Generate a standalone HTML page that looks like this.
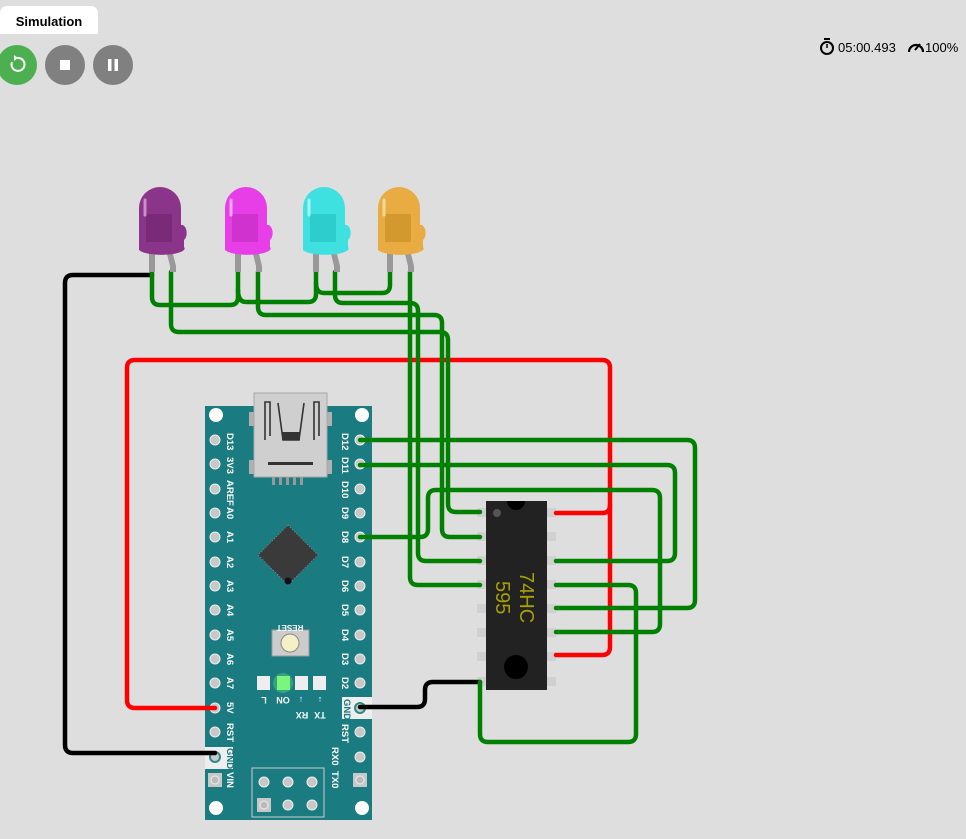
<!DOCTYPE html>
<html><head><meta charset="utf-8"><style>
html,body{margin:0;padding:0;background:#dedede;width:966px;height:839px;overflow:hidden;font-family:"Liberation Sans",sans-serif}
svg{position:absolute;left:0;top:0}
</style></head><body>
<svg width="966" height="839" viewBox="0 0 966 839" xmlns="http://www.w3.org/2000/svg">
<rect width="966" height="839" fill="#dedede"/>
<!-- top UI -->
<path d="M0,34 L0,14 Q0,6 8,6 L90,6 Q98,6 98,14 L98,34 Z" fill="#fff"/>
<text x="49" y="26" font-size="13" font-weight="bold" text-anchor="middle" fill="#000">Simulation</text>
<circle cx="17" cy="65" r="20" fill="#4caf50"/>
<path d="M12,62 A6.5,6.5 0 1 0 17,58" fill="none" stroke="#fff" stroke-width="2"/>
<path d="M14,55 L18,58 L14,61 Z" fill="#fff"/>
<circle cx="65" cy="65" r="20" fill="#808080"/>
<rect x="60" y="60" width="10" height="10" fill="#fff"/>
<circle cx="113" cy="65" r="20" fill="#808080"/>
<rect x="108" y="59" width="3.5" height="12" fill="#fff"/><rect x="114.5" y="59" width="3.5" height="12" fill="#fff"/>
<circle cx="827" cy="48" r="6" fill="none" stroke="#000" stroke-width="2"/><rect x="824" y="38" width="6" height="2" fill="#000"/><line x1="827" y1="48" x2="827" y2="44" stroke="#000" stroke-width="1.5"/>
<text x="838" y="52" font-size="13" fill="#000">05:00.493</text>
<path d="M909,52 A7,7 0 1 1 923,52" fill="none" stroke="#000" stroke-width="2.2"/><line x1="915" y1="50" x2="920" y2="44" stroke="#000" stroke-width="2"/>
<text x="925" y="52" font-size="13" fill="#000">100%</text>

<!-- Arduino board -->
<rect x="205" y="406" width="167" height="414" fill="#1a7b80"/>
<g fill="#fff"><circle cx="216" cy="415" r="7"/><circle cx="362" cy="415" r="7"/><circle cx="216" cy="808" r="7"/><circle cx="362" cy="808" r="7"/></g>
<rect x="249" y="412" width="8" height="14" fill="#b0b0b0"/><rect x="324" y="412" width="8" height="14" fill="#b0b0b0"/>
<rect x="249" y="460" width="8" height="14" fill="#b0b0b0"/><rect x="324" y="460" width="8" height="14" fill="#b0b0b0"/>
<rect x="254" y="393" width="73" height="84" fill="#cfcfcf" stroke="#a8a8a8"/>
<path d="M265,440 L265,402 L270,402 L270,436 M278,403 L283,440 L299,440 L304,403 M314,440 L314,402 L319,402 L319,436" fill="none" stroke="#333" stroke-width="1.6"/>
<rect x="282" y="432" width="18" height="8" fill="#333"/>
<rect x="268" y="462" width="45" height="3" fill="#333"/>
<g fill="#999"><rect x="272" y="477" width="3" height="8"/><rect x="279" y="477" width="3" height="8"/><rect x="286" y="477" width="3" height="8"/><rect x="293" y="477" width="3" height="8"/><rect x="300" y="477" width="3" height="8"/></g>
<polygon points="288,525 318,555 288,585 258,555" fill="#3a3a3a" stroke="#888" stroke-width="1" stroke-dasharray="1,2"/>
<circle cx="288" cy="581" r="3.5" fill="#111"/>
<!-- pins -->
<g fill="#c8c8c8" stroke="#eee" stroke-width="1">
<circle cx="215" cy="440" r="5"/><circle cx="215" cy="464" r="5"/><circle cx="215" cy="489" r="5"/><circle cx="215" cy="513" r="5"/><circle cx="215" cy="537" r="5"/><circle cx="215" cy="562" r="5"/><circle cx="215" cy="586" r="5"/><circle cx="215" cy="610" r="5"/><circle cx="215" cy="635" r="5"/><circle cx="215" cy="659" r="5"/><circle cx="215" cy="683" r="5"/><circle cx="215" cy="708" r="5"/><circle cx="215" cy="732" r="5"/>
<circle cx="360" cy="440" r="5"/><circle cx="360" cy="464" r="5"/><circle cx="360" cy="489" r="5"/><circle cx="360" cy="513" r="5"/><circle cx="360" cy="537" r="5"/><circle cx="360" cy="562" r="5"/><circle cx="360" cy="586" r="5"/><circle cx="360" cy="610" r="5"/><circle cx="360" cy="635" r="5"/><circle cx="360" cy="659" r="5"/><circle cx="360" cy="683" r="5"/><circle cx="360" cy="732" r="5"/><circle cx="360" cy="757" r="5"/>
</g>
<rect x="205" y="747" width="28" height="22" fill="#eee"/><circle cx="215" cy="757" r="5" fill="#c8c8c8" stroke="#2a8a8a" stroke-width="2"/>
<rect x="342" y="697" width="30" height="22" fill="#eee"/><circle cx="360" cy="708" r="5" fill="#c8c8c8" stroke="#2a8a8a" stroke-width="2"/>
<rect x="208" y="773" width="14" height="14" fill="#c8c8c8"/><circle cx="215" cy="780" r="4" fill="#bbb" stroke="#eee"/>
<rect x="353" y="773" width="14" height="14" fill="#c8c8c8"/><circle cx="360" cy="780" r="4" fill="#bbb" stroke="#eee"/>
<rect x="252" y="768" width="72" height="49" fill="none" stroke="#ccc"/>
<g fill="#c8c8c8" stroke="#eee"><circle cx="264" cy="782" r="5"/><circle cx="288" cy="782" r="5"/><circle cx="312" cy="782" r="5"/><circle cx="288" cy="805" r="5"/><circle cx="312" cy="805" r="5"/></g>
<rect x="257" y="798" width="14" height="14" fill="#c8c8c8"/><circle cx="264" cy="805" r="4" fill="#bbb" stroke="#eee"/>
<!-- reset -->
<rect x="272" y="630" width="37" height="26" fill="#ccc" stroke="#999"/>
<circle cx="290" cy="643" r="9" fill="#f5f0c8" stroke="#888"/>
<text transform="translate(290,625) rotate(180)" font-size="8" fill="#fff" text-anchor="middle" font-weight="bold">RESET</text>
<!-- small leds -->
<rect x="257" y="676" width="13" height="14" fill="#eee"/>
<rect x="277" y="676" width="13" height="14" fill="#7cf57c"/><circle cx="283" cy="683" r="10" fill="#7cf57c" opacity="0.3"/>
<rect x="295" y="676" width="13" height="14" fill="#eee"/>
<rect x="313" y="676" width="13" height="14" fill="#eee"/>
<g fill="#fff" font-size="9" font-weight="bold">
<text transform="translate(264,697) rotate(180)" text-anchor="middle">L</text>
<text transform="translate(283,697) rotate(180)" text-anchor="middle">ON</text>
<text transform="translate(301,697) rotate(180)" text-anchor="middle">↓</text>
<text transform="translate(320,697) rotate(180)" text-anchor="middle">↓</text>
<text transform="translate(302,712) rotate(180)" text-anchor="middle">RX</text>
<text transform="translate(320,712) rotate(180)" text-anchor="middle">TX</text>
</g>
<!-- pin labels -->
<g fill="#fff" font-size="9.5" font-weight="bold">
<text transform="translate(227,433) rotate(90)">D13</text>
<text transform="translate(227,457) rotate(90)">3V3</text>
<text transform="translate(227,480) rotate(90)">AREF</text>
<text transform="translate(227,507) rotate(90)">A0</text>
<text transform="translate(227,531) rotate(90)">A1</text>
<text transform="translate(227,556) rotate(90)">A2</text>
<text transform="translate(227,580) rotate(90)">A3</text>
<text transform="translate(227,604) rotate(90)">A4</text>
<text transform="translate(227,629) rotate(90)">A5</text>
<text transform="translate(227,653) rotate(90)">A6</text>
<text transform="translate(227,677) rotate(90)">A7</text>
<text transform="translate(227,702) rotate(90)">5V</text>
<text transform="translate(227,723) rotate(90)">RST</text>
<text transform="translate(227,748) rotate(90)" fill="#1a7b80">GND</text>
<text transform="translate(227,772) rotate(90)">VIN</text>
<text transform="translate(342,433) rotate(90)">D12</text>
<text transform="translate(342,457) rotate(90)">D11</text>
<text transform="translate(342,481) rotate(90)">D10</text>
<text transform="translate(342,507) rotate(90)">D9</text>
<text transform="translate(342,531) rotate(90)">D8</text>
<text transform="translate(342,556) rotate(90)">D7</text>
<text transform="translate(342,580) rotate(90)">D6</text>
<text transform="translate(342,604) rotate(90)">D5</text>
<text transform="translate(342,629) rotate(90)">D4</text>
<text transform="translate(342,653) rotate(90)">D3</text>
<text transform="translate(342,677) rotate(90)">D2</text>
<text transform="translate(344,699) rotate(90)" fill="#1a7b80">GND</text>
<text transform="translate(342,724) rotate(90)">RST</text>
<text transform="translate(332,747) rotate(90)">RX0</text>
<text transform="translate(332,771) rotate(90)">TX0</text>
</g>

<!-- 74HC595 -->
<g fill="#d0d0d0">
<rect x="477" y="508" width="9" height="9"/><rect x="477" y="532" width="9" height="9"/><rect x="477" y="556" width="9" height="9"/><rect x="477" y="580" width="9" height="9"/><rect x="477" y="604" width="9" height="9"/><rect x="477" y="628" width="9" height="9"/><rect x="477" y="652" width="9" height="9"/><rect x="477" y="677" width="9" height="9"/>
<rect x="547" y="508" width="9" height="9"/><rect x="547" y="532" width="9" height="9"/><rect x="547" y="556" width="9" height="9"/><rect x="547" y="580" width="9" height="9"/><rect x="547" y="604" width="9" height="9"/><rect x="547" y="628" width="9" height="9"/><rect x="547" y="652" width="9" height="9"/><rect x="547" y="677" width="9" height="9"/>
</g>
<rect x="486" y="501" width="61" height="189" fill="#222"/>
<path d="M507,501 A9,9 0 0 0 525,501 Z" fill="#000"/>
<circle cx="497" cy="513" r="4" fill="#555"/>
<circle cx="516" cy="667" r="12" fill="#000"/>
<text transform="translate(520,572) rotate(90)" font-size="20" fill="#a8a000">74HC</text>
<text transform="translate(496,581) rotate(90)" font-size="20" fill="#a8a000">595</text>

<!-- wires -->
<g fill="none" stroke-width="4.5" stroke-linejoin="round" stroke-linecap="round">
<path d="M215,708 L135,708 Q127,708 127,700 L127,368 Q127,360 135,360 L602,360 Q610,360 610,368 L610,647 Q610,655 602,655 L556,655" stroke="#f00"/>
<path d="M556,513 L602,513 Q610,513 610,505" stroke="#f00"/>
<path d="M152,275 L73,275 Q65,275 65,283 L65,745 Q65,753 73,753 L215,753" stroke="#000"/>
<path d="M480,682 L433,682 Q425,682 425,690 L425,699 Q425,707 417,707 L360,707" stroke="#000"/>
<g stroke="#008000">
<path d="M152,272 L152,297 Q152,305 160,305 L230,305 Q238,305 238,297 L238,272"/>
<path d="M238,290 Q238,302 246,302 L308,302 Q316,302 316,294 L316,272"/>
<path d="M316,283 Q316,293 324,293 L382,293 Q390,293 390,285 L390,272"/>
<path d="M171,272 L171,324 Q171,332 179,332 L440,332 Q448,332 448,340 L448,504 Q448,512 456,512 L480,512"/>
<path d="M258,272 L258,307 Q258,315 266,315 L434,315 Q442,315 442,323 L442,529 Q442,537 450,537 L480,537"/>
<path d="M335,272 L335,295 Q335,303 343,303 L410,303 Q418,303 418,311 L418,553 Q418,561 426,561 L480,561"/>
<path d="M410,272 L410,577 Q410,585 418,585 L480,585"/>
<path d="M360,440 L687,440 Q695,440 695,448 L695,600 Q695,608 687,608 L556,608"/>
<path d="M360,465 L667,465 Q675,465 675,473 L675,553 Q675,561 667,561 L556,561"/>
<path d="M360,537 L420,537 Q428,537 428,529 L428,498 Q428,490 436,490 L652,490 Q660,490 660,498 L660,624 Q660,632 652,632 L556,632"/>
<path d="M556,585 L628,585 Q636,585 636,593 L636,734 Q636,742 628,742 L488,742 Q480,742 480,734 L480,682"/>
</g>
</g>

<!-- LEDs -->
<g>
<rect x="149" y="250" width="6" height="22" fill="#999"/><path d="M166,250 L172,250 L176,266 L176,272 L170,272 L170,266 Z" fill="#999"/>
<path d="M139,245 L139,208 A21,21 0 0 1 181,208 L181,225 A5,8 0 0 1 184,240 L184,247 A22,6 0 0 1 139,250 Z" fill="#8a358a"/>
<rect x="146" y="214" width="26" height="28" fill="#6e256e" opacity="0.6"/>
<path d="M145,215 L145,200" stroke="#c98fc9" stroke-width="3" stroke-linecap="round"/>
</g>
<g>
<rect x="235" y="250" width="6" height="22" fill="#999"/><path d="M252,250 L258,250 L262,266 L262,272 L256,272 L256,266 Z" fill="#999"/>
<path d="M225,245 L225,208 A21,21 0 0 1 267,208 L267,225 A5,8 0 0 1 270,240 L270,247 A22,6 0 0 1 225,250 Z" fill="#e83ee8"/>
<rect x="232" y="214" width="26" height="28" fill="#c02cc0" opacity="0.6"/>
<path d="M231,215 L231,200" stroke="#f6a6f6" stroke-width="3" stroke-linecap="round"/>
</g>
<g>
<rect x="313" y="250" width="6" height="22" fill="#999"/><path d="M330,250 L336,250 L340,266 L340,272 L334,272 L334,266 Z" fill="#999"/>
<path d="M303,245 L303,208 A21,21 0 0 1 345,208 L345,225 A5,8 0 0 1 348,240 L348,247 A22,6 0 0 1 303,250 Z" fill="#3ee0e0"/>
<rect x="310" y="214" width="26" height="28" fill="#25c0c0" opacity="0.6"/>
<path d="M309,215 L309,200" stroke="#a8f6f6" stroke-width="3" stroke-linecap="round"/>
</g>
<g>
<rect x="387" y="250" width="6" height="22" fill="#999"/><path d="M404,250 L410,250 L414,266 L414,272 L408,272 L408,266 Z" fill="#999"/>
<path d="M378,245 L378,208 A21,21 0 0 1 420,208 L420,225 A5,8 0 0 1 423,240 L423,247 A22,6 0 0 1 378,250 Z" fill="#e8ac42"/>
<rect x="385" y="214" width="26" height="28" fill="#c48a22" opacity="0.6"/>
<path d="M384,215 L384,200" stroke="#f6d89a" stroke-width="3" stroke-linecap="round"/>
</g>
</svg>
</body></html>
